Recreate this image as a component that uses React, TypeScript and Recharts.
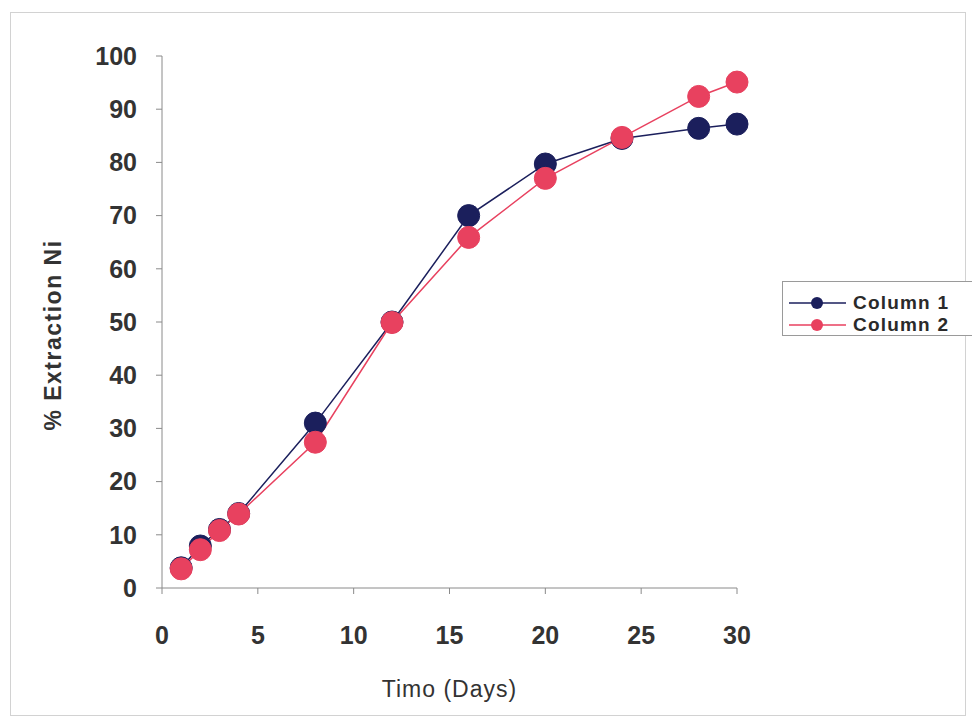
import { LineChart, Line, XAxis, YAxis, Label } from "recharts";

const days = [1, 2, 3, 4, 8, 12, 16, 20, 24, 28, 30];
const column1 = [3.8, 7.9, 11, 14, 31, 50, 70, 79.7, 84.5, 86.4, 87.2];
const column2 = [3.6, 7.2, 10.8, 13.9, 27.4, 49.9, 65.9, 77, 84.7, 92.4, 95.1];
const xTicks = [0, 5, 10, 15, 20, 25, 30];
const yTicks = [0, 10, 20, 30, 40, 50, 60, 70, 80, 90, 100];

const NAVY = "#1b1f5c";
const PINK = "#e8415f";
const AXIS = "#8a8a8a";
const FONT = "'Liberation Sans', Arial, sans-serif";

const data = days.map((d, i) => ({ day: d, c1: column1[i], c2: column2[i] }));

const series = [
  { key: "c1", name: "Column 1", color: NAVY },
  { key: "c2", name: "Column 2", color: PINK },
];

function LegendBox() {
  return (
    <div
      style={{
        position: "absolute",
        left: 782,
        top: 281,
        width: 200,
        height: 55,
        border: "1px solid #9a9a9a",
        boxSizing: "border-box",
        paddingTop: 10,
        background: "#fff",
      }}
    >
      {series.map((s) => (
        <div key={s.name} style={{ display: "flex", alignItems: "center", height: 22 }}>
          <svg width={64} height={14} style={{ marginLeft: 6 }}>
            <line x1={0} y1={7} x2={57} y2={7} stroke={s.color} strokeWidth={1.5} />
            <circle cx={28} cy={7} r={6} fill={s.color} />
          </svg>
          <span
            style={{
              fontFamily: FONT,
              fontWeight: 700,
              fontSize: 19,
              letterSpacing: 1.2,
              color: "#2a2a2a",
            }}
          >
            {s.name}
          </span>
        </div>
      ))}
    </div>
  );
}

const tickStyle = {
  fontSize: 25,
  fontWeight: 700,
  fill: "#333",
  fontFamily: FONT,
};

export default function App() {
  return (
    <div style={{ position: "absolute", left: 0, top: 0, width: 972, height: 723, background: "#fff" }}>
      <div
        style={{
          position: "absolute",
          left: 10,
          top: 12,
          width: 956,
          height: 704,
          border: "1px solid #d2d2d2",
          boxSizing: "border-box",
        }}
      />
      <div style={{ position: "absolute", left: 0, top: 0 }}>
        <LineChart
          width={972}
          height={723}
          data={data}
          margin={{ top: 56, right: 235, left: 30, bottom: 60 }}
        >
          <XAxis
            dataKey="day"
            type="number"
            domain={[0, 30]}
            ticks={xTicks}
            stroke={AXIS}
            tickSize={6}
            tickMargin={32}
            height={75}
            tick={tickStyle}
          >
            <Label
              content={({ viewBox }: any) => (
                <text
                  x={viewBox.x + viewBox.width / 2}
                  y={697}
                  textAnchor="middle"
                  fontSize={23}
                  letterSpacing={1}
                  fontFamily={FONT}
                  fill="#333"
                >
                  Timo (Days)
                </text>
              )}
            />
          </XAxis>
          <YAxis
            type="number"
            domain={[0, 100]}
            ticks={yTicks}
            stroke={AXIS}
            tickSize={6}
            tickMargin={19}
            width={132}
            tick={tickStyle}
          >
            <Label
              content={({ viewBox }: any) => {
                const cy = viewBox.y + viewBox.height / 2 + 13;
                return (
                  <text
                    x={61}
                    y={cy}
                    transform={`rotate(-90 61 ${cy})`}
                    textAnchor="middle"
                    fontSize={23}
                    fontWeight={700}
                    letterSpacing={1.5}
                    fontFamily={FONT}
                    fill="#333"
                  >
                    % Extraction Ni
                  </text>
                );
              }}
            />
          </YAxis>
          {series.map((s) => (
            <Line
              key={s.key}
              dataKey={s.key}
              name={s.name}
              stroke={s.color}
              strokeWidth={1.5}
              dot={{ r: 11, fill: s.color, stroke: s.color, strokeWidth: 1 }}
              isAnimationActive={false}
            />
          ))}
        </LineChart>
      </div>
      <LegendBox />
    </div>
  );
}
